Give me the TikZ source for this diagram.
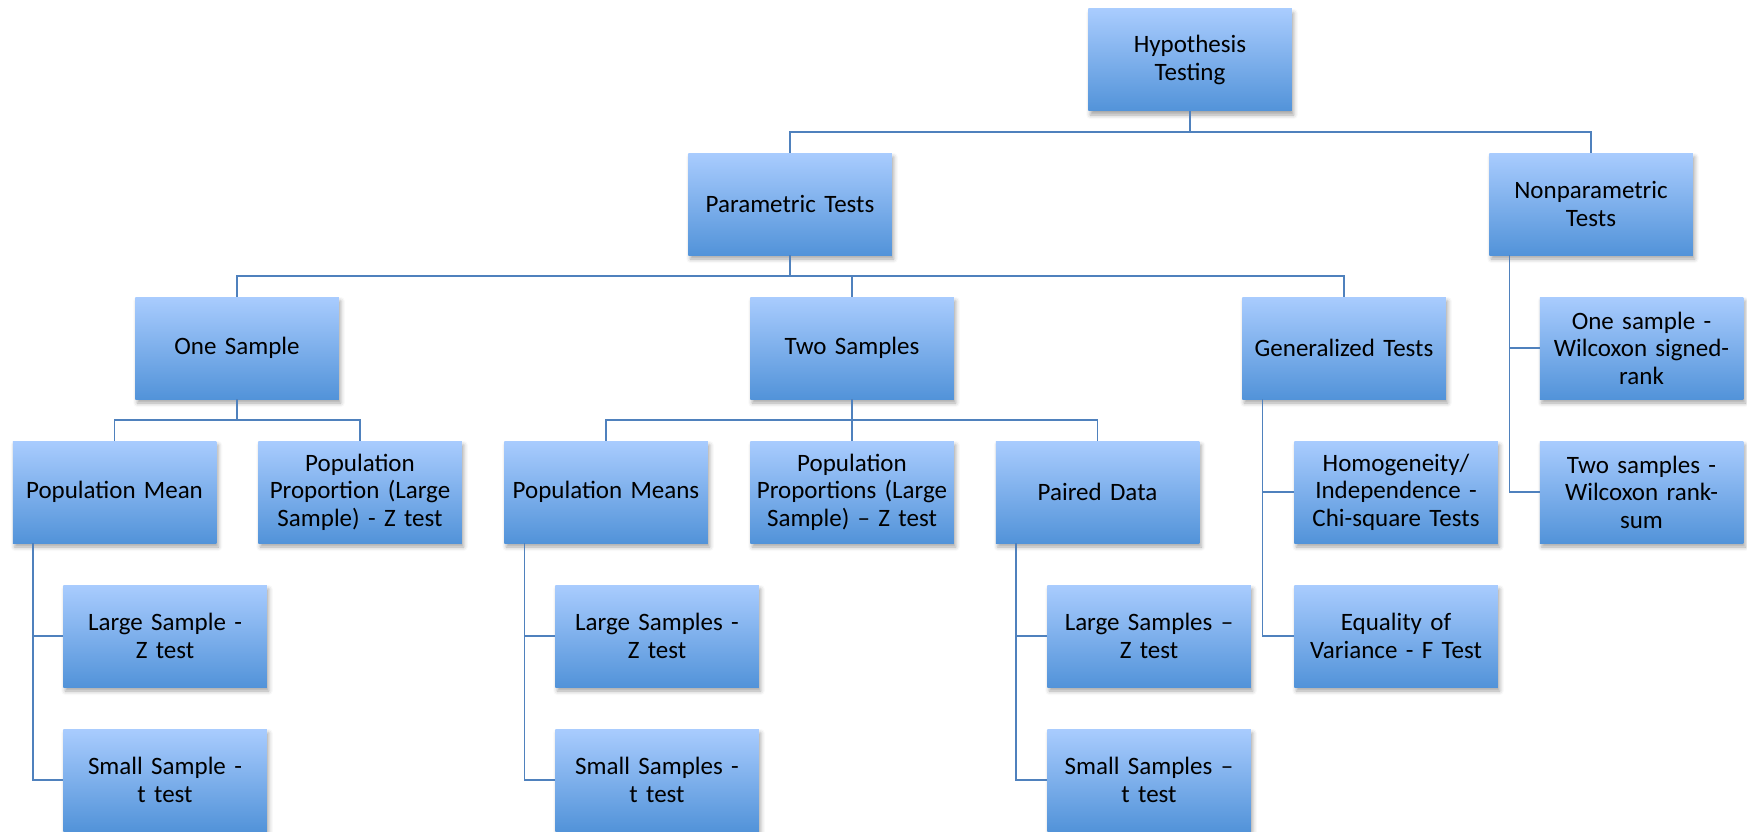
\documentclass[tikz,border=0pt]{standalone}
\usepackage{fontspec}
\setmainfont{Carlito}
\usetikzlibrary{shadows.blur}
\definecolor{boxtop}{HTML}{A9CCFE}
\definecolor{boxbot}{HTML}{5293D9}
\definecolor{linecol}{HTML}{4F81BD}
\begin{document}
\begin{tikzpicture}[x=1pt,y=-1pt,
  box/.style={rectangle, minimum width=203.5pt, minimum height=102pt, inner sep=0pt,
    text width=203pt, align=center, top color=boxtop, bottom color=boxbot,
    font=\fontsize{25}{27.5}\selectfont,
    blur shadow={shadow xshift=2pt, shadow yshift=-4pt, shadow blur radius=4pt, shadow opacity=35}},
  conn/.style={draw=linecol, line width=1.6pt}]
\useasboundingbox (0,0) rectangle (1747,832);
\node[box] (ht) at (1190,60) {Hypothesis\\Testing};
\node[box] (pt) at (790,204) {Parametric Tests};
\node[box] (np) at (1591,204) {Nonparametric\\Tests};
\node[box] (os) at (237,348) {One Sample};
\node[box] (ts) at (852,348) {Two Samples};
\node[box] (gt) at (1344,348) {Generalized Tests};
\node[box] (w1) at (1641.5,348) {One sample -\\Wilcoxon signed-\\rank};
\node[box] (pm) at (114.5,492) {Population Mean};
\node[box] (pp) at (360,492) {Population\\Proportion (Large\\Sample) - Z test};
\node[box] (pms) at (606,492) {Population Means};
\node[box] (pps) at (852,492) {Population\\Proportions (Large\\Sample) – Z test};
\node[box] (pd) at (1097.5,492) {Paired Data};
\node[box] (hi) at (1396,492) {Homogeneity/\\Independence -\\Chi-square Tests};
\node[box] (w2) at (1641.5,492) {Two samples -\\Wilcoxon rank-\\sum};
\node[box] (ls1) at (165,636) {Large Sample -\\Z test};
\node[box] (ls2) at (657,636) {Large Samples -\\Z test};
\node[box] (ls3) at (1149,636) {Large Samples –\\Z test};
\node[box] (ev) at (1396,636) {Equality of\\Variance - F Test};
\node[box] (ss1) at (165,780) {Small Sample -\\t test};
\node[box] (ss2) at (657,780) {Small Samples -\\t test};
\node[box] (ss3) at (1149,780) {Small Samples –\\t test};
% level 1
\draw[conn] (ht.south) -- ++(0,20.7) -| (pt.north);
\draw[conn] (ht.south) -- ++(0,20.7) -| (np.north);
% level 2
\draw[conn] (pt.south) -- ++(0,20.7) -| (os.north);
\draw[conn] (pt.south) -- ++(0,20.7) -| (ts.north);
\draw[conn] (pt.south) -- ++(0,20.7) -| (gt.north);
\draw[conn] (np.south west) ++(20.5,0) |- (w1.west);
\draw[conn] (np.south west) ++(20.5,0) |- (w2.west);
% level 3
\draw[conn] (os.south) -- ++(0,21) -| (pm.north);
\draw[conn] (os.south) -- ++(0,21) -| (pp.north);
\draw[conn] (ts.south) -- ++(0,21) -| (pms.north);
\draw[conn] (ts.south) -- (pps.north);
\draw[conn] (ts.south) -- ++(0,21) -| (pd.north);
\draw[conn] (gt.south west) ++(20.5,0) |- (hi.west);
\draw[conn] (gt.south west) ++(20.5,0) |- (ev.west);
% level 4/5
\draw[conn] (pm.south west) ++(20.5,0) |- (ls1.west);
\draw[conn] (pm.south west) ++(20.5,0) |- (ss1.west);
\draw[conn] (pms.south west) ++(20.5,0) |- (ls2.west);
\draw[conn] (pms.south west) ++(20.5,0) |- (ss2.west);
\draw[conn] (pd.south west) ++(20.5,0) |- (ls3.west);
\draw[conn] (pd.south west) ++(20.5,0) |- (ss3.west);
\end{tikzpicture}
\end{document}
